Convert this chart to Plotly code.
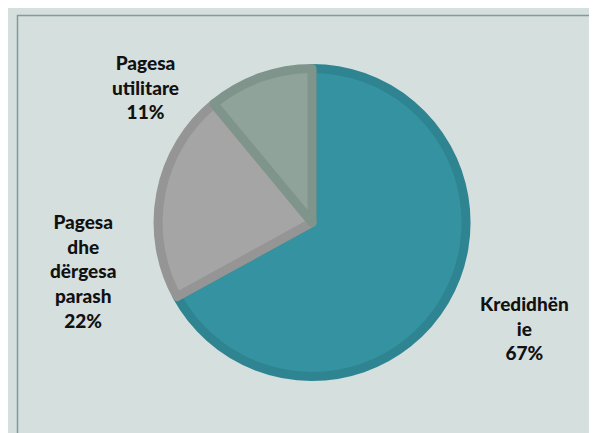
import plotly.graph_objects as go

labels = ["Kredidhënie", "Pagesa dhe dërgesa parash", "Pagesa utilitare"]
label_lines = [["Kredidhën", "ie"], ["Pagesa", "dhe", "dërgesa", "parash"], ["Pagesa", "utilitare"]]
values = [67, 22, 11]
fills = ["#3592a0", "#a5a5a5", "#8fa39a"]
borders = ["#2e8490", "#959595", "#7f958b"]

W, H = 597, 433
fig = go.Figure()
fig.add_trace(go.Pie(
    labels=labels, values=values, sort=False, direction="clockwise", rotation=0,
    textinfo="none", hoverinfo="label+percent", showlegend=False,
    marker=dict(colors=fills, line=dict(color=borders, width=9)),
    domain=dict(x=[0.2513, 0.7673], y=[0.149, 0.8603]),
))

# label positions (pixel centres of the text blocks)
label_pos = [(516, 320), (75, 263), (137, 79)]
total = sum(values)
for lines, v, (px, py) in zip(label_lines, values, label_pos):
    txt = "<br>".join(lines + [f"{round(100*v/total)}%"])
    fig.add_annotation(x=px / W, y=1 - py / H, xref="paper", yref="paper",
                       text=txt, showarrow=False, align="center",
                       xanchor="center", yanchor="middle",
                       font=dict(family="Lato", size=19, color="#111111", weight=900))

fig.add_shape(type="rect", xref="paper", yref="paper",
              x0=9.5 / W, x1=590 / W, y0=-0.05, y1=1 - 7.5 / H,
              line=dict(color="#809c99", width=1.5), fillcolor="rgba(0,0,0,0)")

fig.update_layout(width=W, height=H, margin=dict(l=0, r=0, t=0, b=0),
                  paper_bgcolor="#d5dfde", plot_bgcolor="#d5dfde")
fig.write_html("out.html")
